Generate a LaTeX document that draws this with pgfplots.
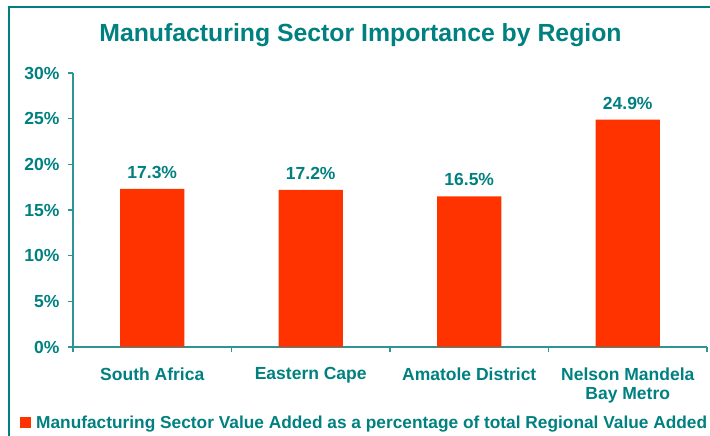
\documentclass[border=0pt]{standalone}
\usepackage{fontspec}
\setmainfont{Liberation Sans}
\usepackage{pgfplots}
\pgfplotsset{compat=1.18}
\definecolor{tealtext}{HTML}{008080}
\definecolor{barred}{HTML}{FF3300}
\definecolor{axisteal}{HTML}{2E9494}

\begin{document}
\begin{tikzpicture}
\begin{axis}[
    at={(0pt,0pt)}, anchor=south west,
    scale only axis,
    width=634pt, height=274pt,
    xmin=-0.5, xmax=3.5,
    ymin=0, ymax=30,
    ytick={0,5,...,30},
    yticklabel={\pgfmathprintnumber{\tick}\%},
    yticklabel style={xshift=-5pt},
    xtick={-0.5,0.5,1.5,2.5,3.5},
    xticklabels={},
    extra x ticks={0,1,2,3},
    extra x tick labels={South Africa,Eastern Cape,Amatole District,{Nelson Mandela\\Bay Metro}},
    extra x tick style={major tick length=0pt, xticklabel style={yshift=-17pt}},
    axis x line*=bottom, axis y line*=left,
    axis line style={axisteal, line width=1.2pt},
    tick style={axisteal, line width=1.2pt},
    tick align=outside, major tick length=5pt,
    ticklabel style={tealtext, font=\fontsize{17.5}{19}\selectfont\bfseries, align=center},
    /pgf/number format/assume math mode=true,
    ybar, bar width=0.404,
    nodes near coords={\pgfmathprintnumber[fixed,precision=1,fixed zerofill]{\pgfplotspointmeta}\%},
    nodes near coords style={tealtext, font=\fontsize{17.5}{19}\selectfont\bfseries, inner sep=0pt, anchor=south, yshift=10pt, /pgf/number format/assume math mode=true},
    legend style={at={(-0.0836,-0.277)}, anchor=west, draw=none, fill=none, inner sep=0pt,
        font=\fontsize{17.3}{19}\selectfont\bfseries, text=tealtext},
    legend image code/.code={\fill[#1] (0pt,-5.5pt) rectangle (11pt,5.5pt);},
    legend style={/tikz/every odd column/.append style={column sep=3pt}},
    clip=false,
]
\addplot[fill=barred, draw=none] coordinates {(0,17.3) (1,17.2) (2,16.5) (3,24.9)};
\addlegendentry{Manufacturing Sector Value Added as a percentage of total Regional Value Added}
\end{axis}
% outer frame (only the left and top edges are visible)
\draw[tealtext, line width=2pt] (-64pt,-100pt) -- (-64pt,339.5pt) -- (650pt,339.5pt);
\node[tealtext, font=\fontsize{24.8}{28}\selectfont\bfseries] at (287.5pt,312pt) {Manufacturing Sector Importance by Region};
\pgfresetboundingbox
\path[use as bounding box] (-73pt,-89pt) rectangle (637pt,347pt);
\end{tikzpicture}
\end{document}
